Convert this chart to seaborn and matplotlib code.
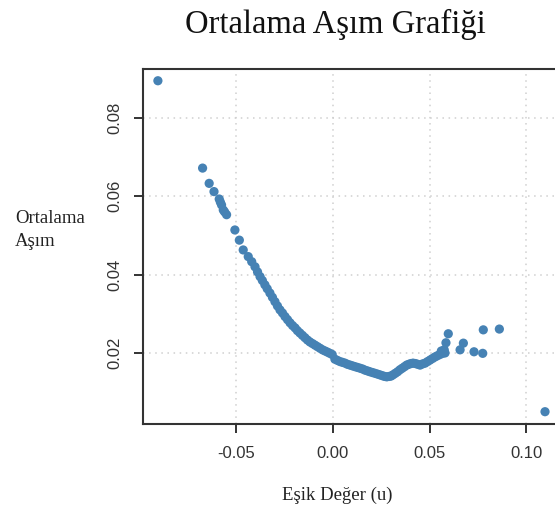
import matplotlib
matplotlib.use("Agg")
import matplotlib.pyplot as plt
import seaborn as sns
import pandas as pd

# threshold (u) values and mean excess
esik = [
    -0.0905, -0.0674, -0.0640, -0.0615, -0.0588, -0.0582, -0.0576, -0.0567,
    -0.0560, -0.0550, -0.0507, -0.0484, -0.0464, -0.0438, -0.0420,
    -0.0403, -0.0390, -0.0377, -0.0365, -0.0352, -0.0340, -0.0326, -0.0313,
    -0.0300, -0.0287, -0.0274, -0.0261, -0.0248, -0.0235, -0.0222, -0.0209,
    -0.0196, -0.0184, -0.0171, -0.0158, -0.0145, -0.0132, -0.0119, -0.0106,
    -0.0093, -0.0080, -0.0067, -0.0054, -0.0041, -0.0028, -0.0016, -0.0004,
    0.0010, 0.0023, 0.0036, 0.0049, 0.0062, 0.0075, 0.0088, 0.0101,
    0.0114, 0.0127, 0.0140, 0.0153, 0.0166, 0.0179, 0.0191, 0.0204,
    0.0217, 0.0230, 0.0243, 0.0255, 0.0267, 0.0278, 0.0290, 0.0300,
    0.0310, 0.0322, 0.0334, 0.0346, 0.0358, 0.0370, 0.0381, 0.0392,
    0.0403, 0.0414, 0.0426, 0.0438, 0.0450, 0.0463, 0.0476, 0.0489,
    0.0502, 0.0515, 0.0528, 0.0540, 0.0553, 0.0560, 0.0566, 0.0575, 0.0579,
    0.0584, 0.0596, 0.0657, 0.0674, 0.0729, 0.0774, 0.0777, 0.0860, 0.1096,
]
ortalama_asim = [
    0.0895, 0.0672, 0.0633, 0.0612, 0.0593, 0.0585, 0.0578, 0.0565,
    0.0560, 0.0553, 0.0514, 0.0488, 0.0463, 0.0446, 0.0433,
    0.0420, 0.0407, 0.0395, 0.0385, 0.0374, 0.0364, 0.0353, 0.0342,
    0.0331, 0.0320, 0.0310, 0.0302, 0.0293, 0.0285, 0.0277, 0.0270,
    0.0264, 0.0257, 0.0251, 0.0245, 0.0239, 0.0233, 0.0228, 0.0224,
    0.0220, 0.0216, 0.0212, 0.0208, 0.0205, 0.0202, 0.0199, 0.0196,
    0.0184, 0.0181, 0.0178, 0.0176, 0.0174, 0.0171, 0.0169, 0.0167,
    0.0165, 0.0163, 0.0161, 0.0159, 0.0156, 0.0154, 0.0152, 0.0150,
    0.0148, 0.0146, 0.0144, 0.0142, 0.0140, 0.0139, 0.0140, 0.0141,
    0.0144, 0.0148, 0.0152, 0.0157, 0.0161, 0.0165, 0.0169, 0.0171,
    0.0173, 0.0174, 0.0173, 0.0171, 0.0169, 0.0172, 0.0174, 0.0178,
    0.0182, 0.0186, 0.0190, 0.0193, 0.0196, 0.0205, 0.0199, 0.0208, 0.0200,
    0.0226, 0.0249, 0.0208, 0.0225, 0.0203, 0.0199, 0.0259, 0.0261, 0.0050,
]

x_ticks = [-0.05, 0.00, 0.05, 0.10]
x_tick_labels = ["-0.05", "0.00", "0.05", "0.10"]
y_ticks = [0.02, 0.04, 0.06, 0.08]
y_tick_labels = ["0.02", "0.04", "0.06", "0.08"]

df = pd.DataFrame({"u": esik, "me": ortalama_asim})

sns.set_style("white")
plt.rcParams["font.family"] = ["Liberation Sans", "DejaVu Sans"]

fig = plt.figure(figsize=(5.55, 5.09), dpi=100)
# the plot panel runs past the right edge of the picture, as in the original
ax = fig.add_axes([143 / 555, 85 / 509, 432 / 555, 355 / 509])

sns.scatterplot(data=df, x="u", y="me", ax=ax, color="#4682b4",
                s=44, edgecolor="none", linewidth=0, alpha=1)

ax.set_xlim(-0.0982, 0.1251)
ax.set_ylim(0.00186, 0.0925)
ax.set_xticks(x_ticks)
ax.set_xticklabels(x_tick_labels)
ax.set_yticks(y_ticks)
ax.set_yticklabels(y_tick_labels, rotation=90, va="center")

ax.grid(True, linestyle=(0, (1, 3)), color="#cfcfcf", linewidth=1.1)
ax.set_axisbelow(True)

for side in ["left", "bottom", "top", "right"]:
    ax.spines[side].set_color("#333333")
    ax.spines[side].set_linewidth(1.5)

ax.tick_params(axis="both", direction="out", length=6.5, width=1.4,
               color="#333333", labelsize=12, labelcolor="#333333")
ax.tick_params(axis="x", pad=9)
ax.tick_params(axis="y", pad=8)
ax.tick_params(bottom=True, left=True)

ax.set_xlabel("")
ax.set_ylabel("")

serif = ["Liberation Serif", "DejaVu Serif"]
fig.text(335 / 555, 1 - 24 / 509, "Ortalama Aşım Grafiği", ha="center",
         va="center", fontsize=23.5, family=serif, color="#111111")
fig.text(337 / 555, 1 - 495 / 509, "Eşik Değer (u)", ha="center",
         va="center", fontsize=13.5, family=serif, color="#222222")
fig.text(15 / 555, 1 - 230 / 509, "Ortalama\nAşım", ha="left",
         va="center", fontsize=13.5, family=serif, color="#222222",
         linespacing=1.45)

fig.savefig("out.png", dpi=100)
